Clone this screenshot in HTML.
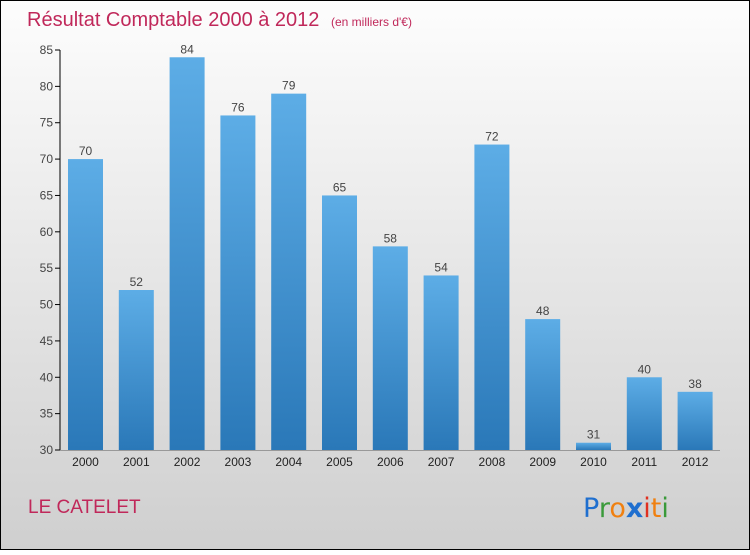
<!DOCTYPE html>
<html><head><meta charset="utf-8"><style>
body{margin:0;width:750px;height:550px;overflow:hidden;font-family:"Liberation Sans",sans-serif}
</style></head><body>
<svg id="chart" width="750" height="550" xmlns="http://www.w3.org/2000/svg">
<defs>
<linearGradient id="bg" x1="0" y1="0" x2="0" y2="1"><stop offset="0" stop-color="#fdfdfd"/><stop offset="1" stop-color="#cfcfcf"/></linearGradient>
<linearGradient id="bar" x1="0" y1="0" x2="0" y2="1"><stop offset="0" stop-color="#5dade6"/><stop offset="1" stop-color="#2a78b8"/></linearGradient>
</defs>
<rect x="0.5" y="0.5" width="749" height="549" fill="url(#bg)" stroke="#000"/>
<text x="27" y="26" font-size="20" fill="#c0285a">Résultat Comptable 2000 à 2012 <tspan font-size="12" dx="6">(en milliers d'€)</tspan></text>
<g id="axes"></g><g id="bars"></g>
<text x="28" y="513" font-size="19" fill="#c0285a">LE CATELET</text>
<g font-size="27" font-family="'DejaVu Sans',sans-serif">
<text x="583" y="517"><tspan fill="#1f6fcf">P</tspan><tspan fill="#3a9a3a">r</tspan><tspan fill="#f08010">o</tspan><tspan fill="#1f6fcf" font-weight="bold">x</tspan><tspan fill="#e03020">i</tspan><tspan fill="#f08010">t</tspan><tspan fill="#3a9a3a">i</tspan></text>
</g>
</svg>
<script>
const years=["2000","2001","2002","2003","2004","2005","2006","2007","2008","2009","2010","2011","2012"];
const values=[70,52,84,76,79,65,58,54,72,48,31,40,38];
const ticks=[30,35,40,45,50,55,60,65,70,75,80,85];
const NS="http://www.w3.org/2000/svg";
const y0=450,y1=50,vmin=30,vmax=85;
function y(v){return y0-(v-vmin)/(vmax-vmin)*(y0-y1);}
function x(i){return 85.5+i*50.8;}
function mk(t,a,p){const e=document.createElementNS(NS,t);for(const k in a)e.setAttribute(k,a[k]);p.appendChild(e);return e;}
const ax=document.getElementById('axes'),bs=document.getElementById('bars');
const yl=mk('line',{x1:60,y1:y1,x2:60,y2:y0,stroke:'#000'},ax);


const xl=mk('line',{x1:60,y1:y0+0.5,x2:720,y2:y0+0.5,stroke:'#999'},ax);


ticks.forEach(t=>{
 const l=mk('line',{x1:55,x2:60,y1:y(t),y2:y(t),stroke:'#000'},ax);
 
 
 const tx=mk('text',{x:53,y:y(t)+4,'text-anchor':'end','font-size':12,fill:'#444'},ax);
 tx.textContent=t;
 
 
});
years.forEach((yr,i)=>{
 const v=values[i];
 const r=mk('rect',{x:x(i)-17.5,y:y(v),width:35,height:y0-y(v),fill:'url(#bar)'},bs);
 
 
 const vt=mk('text',{x:x(i),y:y(v)-4,'text-anchor':'middle','font-size':12,fill:'#444'},bs);
 vt.textContent=v;
 
 
 const xt=mk('text',{x:x(i),y:466,'text-anchor':'middle','font-size':12,fill:'#222'},bs);
 xt.textContent=yr;
 
 
});
</script>
</body></html>
